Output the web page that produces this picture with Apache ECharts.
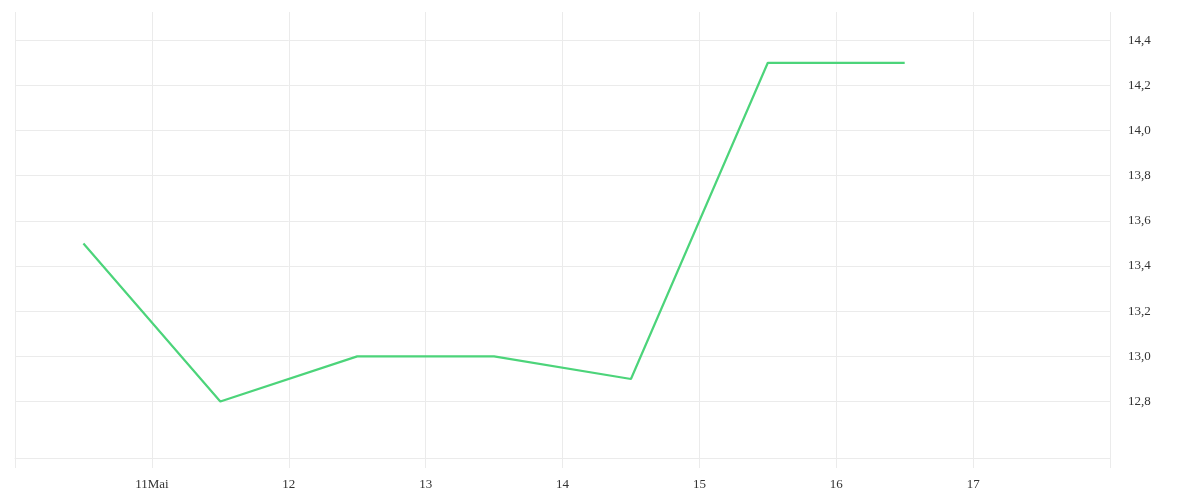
<!DOCTYPE html>
<html>
<head>
<meta charset="utf-8">
<script src="https://cdn.jsdelivr.net/npm/echarts@6/dist/echarts.min.js"></script>
<style>
  html, body { margin: 0; padding: 0; background: #fff; }
  #chart { width: 1200px; height: 500px; }
</style>
</head>
<body>
<div id="chart"></div>
<script>
var myChart = echarts.init(document.getElementById('chart'));

// data points at noon of each day (May)
let days = [10, 11, 12, 13, 14, 15, 16],
    values = [13.5, 12.8, 13.0, 13.0, 12.9, 14.3, 14.3];
let tickDays = [10, 11, 12, 13, 14, 15, 16, 17, 18],
    labelDays = [11, 12, 13, 14, 15, 16, 17],
    yTicks = [12.8, 13.0, 13.2, 13.4, 13.6, 13.8, 14.0, 14.2, 14.4];

function t(d, h) { return new Date(2021, 4, d, h || 0).getTime(); }

let seriesData = days.map(function (d, i) { return [t(d, 12), values[i]]; });

var option = {
  animation: false,
  grid: { left: 15, right: 90, top: 12, bottom: 42 },
  xAxis: {
    type: 'value',
    min: t(10),
    max: t(18),
    axisLine: { show: true, lineStyle: { color: '#ebebeb', width: 1 } },
    axisTick: {
      show: true, length: 10, inside: false,
      lineStyle: { color: '#ebebeb' },
      customValues: tickDays.map(function (d) { return t(d); })
    },
    splitLine: { show: true, lineStyle: { color: '#ebebeb', width: 1 } },
    axisLabel: {
      customValues: labelDays.map(function (d) { return t(d); }),
      margin: 20,
      color: '#333',
      fontFamily: 'Liberation Serif',
      fontSize: 13,
      formatter: function (v) {
        var d = new Date(v).getDate();
        return d === 11 ? '11Mai' : String(d);
      }
    }
  },
  yAxis: {
    type: 'value',
    position: 'right',
    min: 12.55,
    max: 14.525,
    axisLine: { show: false },
    axisTick: { show: false, customValues: yTicks },
    splitLine: { show: true, lineStyle: { color: '#ebebeb', width: 1 } },
    axisLabel: {
      customValues: yTicks,
      margin: 18,
      padding: [3, 0, 0, 0],
      color: '#333',
      fontFamily: 'Liberation Serif',
      fontSize: 13,
      formatter: function (v) { return v.toFixed(1).replace('.', ','); }
    }
  },
  series: [{
    type: 'line',
    data: seriesData,
    showSymbol: false,
    symbol: 'none',
    lineStyle: { color: '#4cd47a', width: 2.2 },
    itemStyle: { color: '#4cd47a' }
  }]
};
myChart.setOption(option);
</script>
</body>
</html>
